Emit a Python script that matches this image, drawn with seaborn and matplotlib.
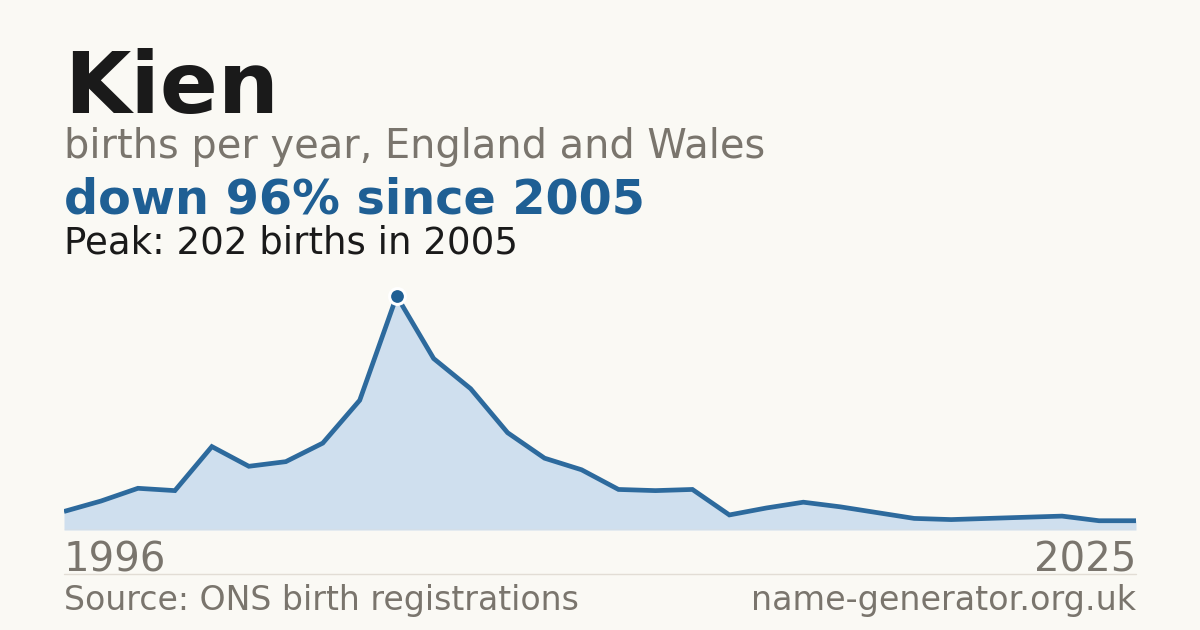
import numpy as np
import pandas as pd
import matplotlib
matplotlib.use("Agg")
import matplotlib.pyplot as plt
import seaborn as sns

# ── DATA ─────────────────────────────────────────────────────
years = list(range(1996, 2026))
births = [16, 25, 36, 34, 72, 55, 59, 75, 112, 202,
          148, 122, 84, 62, 52, 35, 34, 35, 13, 19,
          24, 20, 15, 10, 9, 10, 11, 12, 8, 8]
name = "Kien"
subtitle = "births per year, England and Wales"
headline = "down 96% since 2005"
peak_note = "Peak: 202 births in 2005"
source = "Source: ONS birth registrations"
site = "name-generator.org.uk"

df = pd.DataFrame({"year": years, "births": births})

# ── STYLE ────────────────────────────────────────────────────
BG = "#faf9f4"
BLUE = "#1f5f94"
LINE = "#2d6a9d"
FILL = "#cfdfee"
GREY = "#7a756d"
DARK = "#1a1a1a"

sns.set_theme(style="white")
plt.rcParams["font.family"] = ["DejaVu Sans"]

W, H = 1200, 630
fig = plt.figure(figsize=(12, 6.3), dpi=100, facecolor=BG)

# ── CHART ────────────────────────────────────────────────────
ax = fig.add_axes([64 / W, (H - 530) / H, 1072 / W, 234 / H])
ax.set_facecolor(BG)
ax.fill_between(df["year"], df["births"], 0, color=FILL, lw=0)
sns.lineplot(data=df, x="year", y="births", ax=ax, color=LINE,
             lw=3.4, solid_joinstyle="miter", solid_capstyle="butt")
peak = df.loc[df["births"].idxmax()]
ax.scatter([peak["year"]], [peak["births"]], s=130, color=BLUE,
           edgecolor="white", linewidth=2.2, zorder=5, clip_on=False)
ax.axhline(0, color="#e4ddd2", lw=1)
ax.set_xlim(years[0], years[-1])
ax.set_ylim(0, max(births))
ax.axis("off")

# ── TEXT ─────────────────────────────────────────────────────
def put(x, y, s, **kw):
    fig.text(x / W, 1 - y / H, s, va="baseline", **kw)

put(64, 113, name, fontsize=61.7, fontweight="bold", color=DARK)
put(64, 158, subtitle, fontsize=28.7, color=GREY)
put(64, 214, headline, fontsize=34.4, fontweight="bold", color=BLUE)
put(64, 253, peak_note, fontsize=26.7, color=DARK)
put(64, 571, str(years[0]), fontsize=29, color=GREY)
put(1136, 571, str(years[-1]), fontsize=29, color=GREY, ha="right")
put(64, 610, source, fontsize=23.9, color=GREY)
put(1136, 610, site, fontsize=24, color=GREY, ha="right")

fig.add_artist(plt.Line2D([64 / W, 1136 / W], [1 - 574 / H, 1 - 574 / H],
                          color="#e2ddd5", lw=1))

fig.savefig("out.png", dpi=100, facecolor=BG)
